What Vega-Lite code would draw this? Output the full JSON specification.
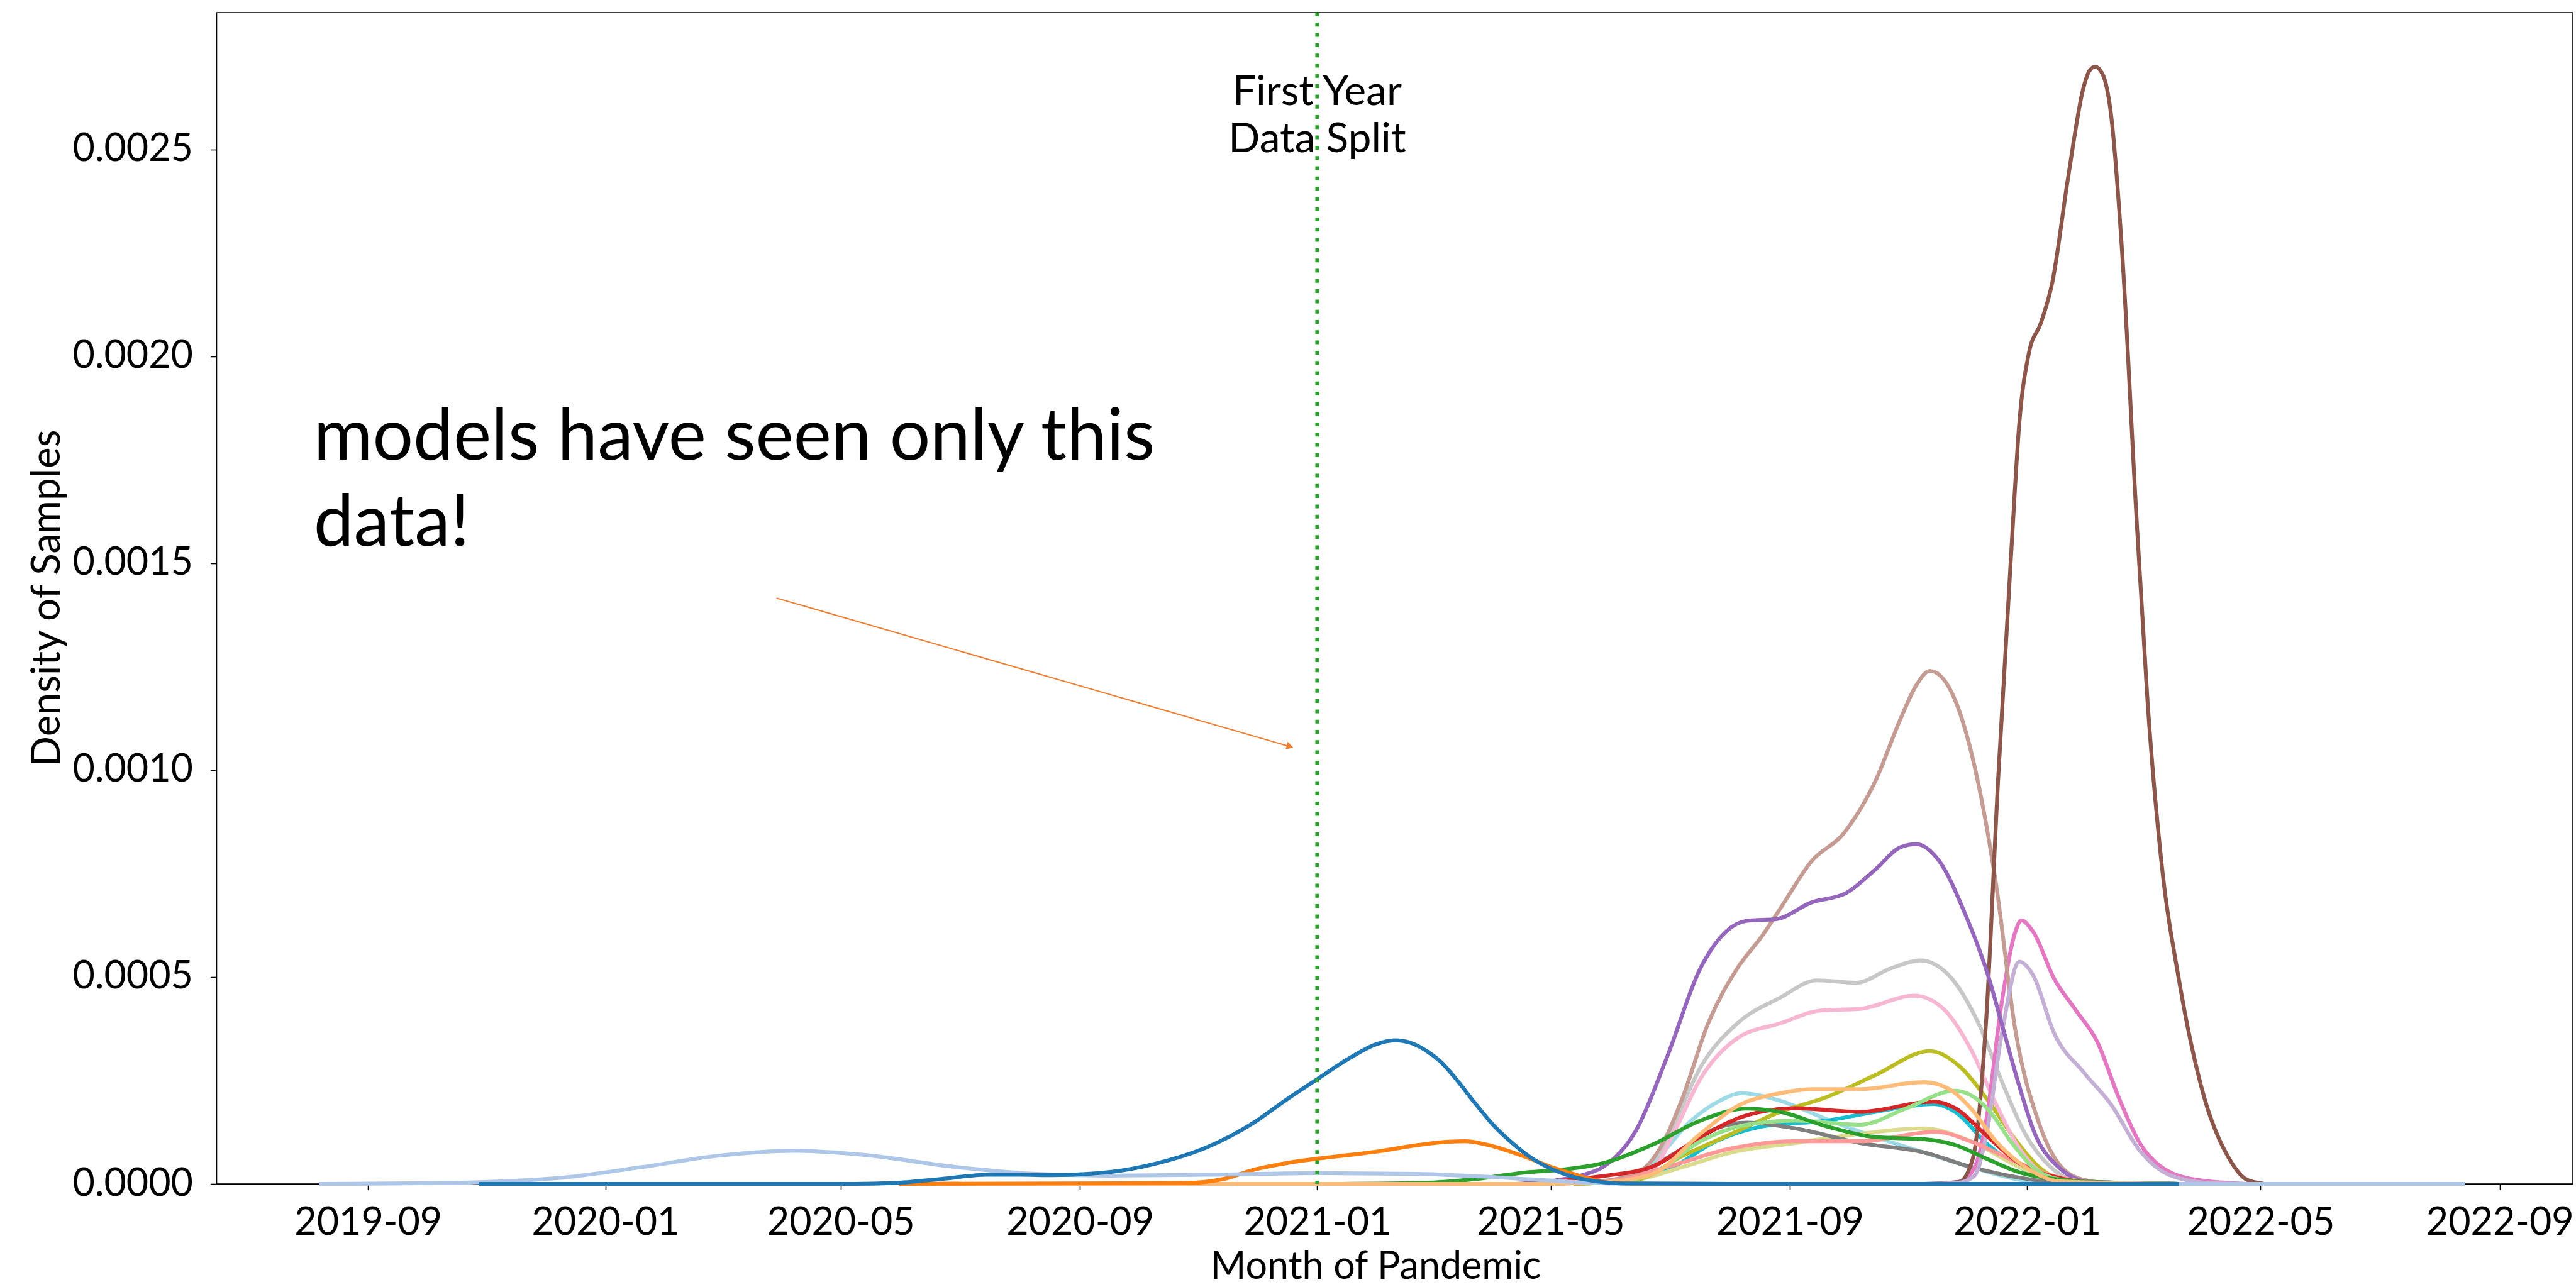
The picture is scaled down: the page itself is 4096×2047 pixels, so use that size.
{
  "$schema": "https://vega.github.io/schema/vega-lite/v6.json",
  "width": 3747,
  "height": 1863,
  "autosize": {"type": "none"},
  "padding": {"left": 344, "top": 20, "right": 5, "bottom": 164},
  "background": "white",
  "config": {"view": {"stroke": "black", "strokeWidth": 1.6}, "font": "Lato"},
  "datasets": {
    "curves": [
      {"series": "s20", "date": "2021-05-03", "density": 0},
      {"series": "s20", "date": "2021-06-02", "density": 0.00001},
      {"series": "s20", "date": "2021-06-22", "density": 0.00005},
      {"series": "s20", "date": "2021-07-13", "density": 0.000156},
      {"series": "s20", "date": "2021-07-27", "density": 0.000201},
      {"series": "s20", "date": "2021-08-07", "density": 0.000219},
      {"series": "s20", "date": "2021-08-27", "density": 0.000201},
      {"series": "s20", "date": "2021-09-20", "density": 0.000156},
      {"series": "s20", "date": "2021-10-15", "density": 0.000113},
      {"series": "s20", "date": "2021-11-09", "density": 0.000076},
      {"series": "s20", "date": "2021-12-03", "density": 0.000041},
      {"series": "s20", "date": "2021-12-28", "density": 0.00001},
      {"series": "s20", "date": "2022-01-18", "density": 0.000002},
      {"series": "s20", "date": "2022-03-20", "density": 0},

      {"series": "s19", "date": "2021-05-13", "density": 0},
      {"series": "s19", "date": "2021-06-07", "density": 0.000008},
      {"series": "s19", "date": "2021-06-30", "density": 0.000033},
      {"series": "s19", "date": "2021-07-25", "density": 0.000103},
      {"series": "s19", "date": "2021-08-18", "density": 0.000139},
      {"series": "s19", "date": "2021-09-20", "density": 0.000153},
      {"series": "s19", "date": "2021-10-15", "density": 0.000174},
      {"series": "s19", "date": "2021-11-14", "density": 0.000193},
      {"series": "s19", "date": "2021-11-25", "density": 0.000174},
      {"series": "s19", "date": "2021-12-12", "density": 0.000094},
      {"series": "s19", "date": "2021-12-28", "density": 0.000041},
      {"series": "s19", "date": "2022-01-18", "density": 0.000008},
      {"series": "s19", "date": "2022-03-20", "density": 0},

      {"series": "s18", "date": "2021-05-13", "density": 0},
      {"series": "s18", "date": "2021-06-12", "density": 0.000008},
      {"series": "s18", "date": "2021-07-08", "density": 0.000041},
      {"series": "s18", "date": "2021-08-02", "density": 0.000076},
      {"series": "s18", "date": "2021-09-04", "density": 0.000099},
      {"series": "s18", "date": "2021-10-07", "density": 0.000121},
      {"series": "s18", "date": "2021-11-09", "density": 0.000134},
      {"series": "s18", "date": "2021-12-03", "density": 0.000103},
      {"series": "s18", "date": "2021-12-28", "density": 0.000041},
      {"series": "s18", "date": "2022-01-18", "density": 0.000006},
      {"series": "s18", "date": "2022-03-20", "density": 0},

      {"series": "s17", "date": "2021-05-13", "density": 0},
      {"series": "s17", "date": "2021-06-14", "density": 0.00001},
      {"series": "s17", "date": "2021-07-08", "density": 0.000068},
      {"series": "s17", "date": "2021-08-02", "density": 0.000121},
      {"series": "s17", "date": "2021-08-27", "density": 0.000174},
      {"series": "s17", "date": "2021-09-20", "density": 0.00021},
      {"series": "s17", "date": "2021-10-15", "density": 0.000263},
      {"series": "s17", "date": "2021-11-12", "density": 0.000321},
      {"series": "s17", "date": "2021-11-28", "density": 0.000281},
      {"series": "s17", "date": "2021-12-12", "density": 0.000201},
      {"series": "s17", "date": "2021-12-25", "density": 0.000113},
      {"series": "s17", "date": "2022-01-07", "density": 0.000041},
      {"series": "s17", "date": "2022-01-23", "density": 0.000006},
      {"series": "s17", "date": "2022-03-20", "density": 0},

      {"series": "s16", "date": "2021-04-23", "density": 0},
      {"series": "s16", "date": "2021-05-28", "density": 0.000006},
      {"series": "s16", "date": "2021-06-22", "density": 0.00004},
      {"series": "s16", "date": "2021-07-04", "density": 0.00015},
      {"series": "s16", "date": "2021-07-17", "density": 0.000281},
      {"series": "s16", "date": "2021-08-05", "density": 0.000388},
      {"series": "s16", "date": "2021-08-27", "density": 0.00045},
      {"series": "s16", "date": "2021-09-15", "density": 0.000492},
      {"series": "s16", "date": "2021-10-05", "density": 0.000486},
      {"series": "s16", "date": "2021-10-23", "density": 0.000521},
      {"series": "s16", "date": "2021-11-07", "density": 0.00054},
      {"series": "s16", "date": "2021-11-22", "density": 0.000503},
      {"series": "s16", "date": "2021-12-07", "density": 0.000388},
      {"series": "s16", "date": "2021-12-20", "density": 0.000236},
      {"series": "s16", "date": "2021-12-31", "density": 0.000121},
      {"series": "s16", "date": "2022-01-13", "density": 0.000041},
      {"series": "s16", "date": "2022-01-28", "density": 0.000006},
      {"series": "s16", "date": "2022-03-20", "density": 0},

      {"series": "s15", "date": "2021-04-23", "density": 0},
      {"series": "s15", "date": "2021-05-23", "density": 0.000004},
      {"series": "s15", "date": "2021-06-14", "density": 0.000023},
      {"series": "s15", "date": "2021-07-08", "density": 0.000086},
      {"series": "s15", "date": "2021-07-25", "density": 0.000134},
      {"series": "s15", "date": "2021-08-10", "density": 0.000148},
      {"series": "s15", "date": "2021-09-04", "density": 0.000134},
      {"series": "s15", "date": "2021-10-07", "density": 0.000099},
      {"series": "s15", "date": "2021-11-09", "density": 0.000076},
      {"series": "s15", "date": "2021-12-03", "density": 0.000041},
      {"series": "s15", "date": "2021-12-28", "density": 0.000015},
      {"series": "s15", "date": "2022-01-18", "density": 0.000003},
      {"series": "s15", "date": "2022-03-20", "density": 0},

      {"series": "s14", "date": "2021-04-23", "density": 0},
      {"series": "s14", "date": "2021-05-28", "density": 0.000005},
      {"series": "s14", "date": "2021-06-22", "density": 0.000033},
      {"series": "s14", "date": "2021-07-04", "density": 0.00013},
      {"series": "s14", "date": "2021-07-17", "density": 0.000254},
      {"series": "s14", "date": "2021-08-05", "density": 0.000352},
      {"series": "s14", "date": "2021-08-27", "density": 0.000388},
      {"series": "s14", "date": "2021-09-17", "density": 0.000419},
      {"series": "s14", "date": "2021-10-07", "density": 0.000423},
      {"series": "s14", "date": "2021-11-04", "density": 0.000455},
      {"series": "s14", "date": "2021-11-19", "density": 0.000423},
      {"series": "s14", "date": "2021-12-03", "density": 0.000326},
      {"series": "s14", "date": "2021-12-16", "density": 0.000193},
      {"series": "s14", "date": "2021-12-28", "density": 0.000086},
      {"series": "s14", "date": "2022-01-10", "density": 0.000023},
      {"series": "s14", "date": "2022-01-28", "density": 0.000002},
      {"series": "s14", "date": "2022-03-20", "density": 0},

      {"series": "s13", "date": "2021-11-14", "density": 0},
      {"series": "s13", "date": "2021-11-27", "density": 0.000005},
      {"series": "s13", "date": "2021-12-05", "density": 0.00004},
      {"series": "s13", "date": "2021-12-11", "density": 0.000155},
      {"series": "s13", "date": "2021-12-19", "density": 0.00044},
      {"series": "s13", "date": "2021-12-26", "density": 0.00061},
      {"series": "s13", "date": "2021-12-29", "density": 0.000637},
      {"series": "s13", "date": "2022-01-04", "density": 0.00061},
      {"series": "s13", "date": "2022-01-15", "density": 0.000495},
      {"series": "s13", "date": "2022-01-26", "density": 0.00042},
      {"series": "s13", "date": "2022-02-06", "density": 0.000344},
      {"series": "s13", "date": "2022-02-17", "density": 0.00021},
      {"series": "s13", "date": "2022-02-28", "density": 0.000098},
      {"series": "s13", "date": "2022-03-11", "density": 0.000041},
      {"series": "s13", "date": "2022-03-29", "density": 0.00001},
      {"series": "s13", "date": "2022-04-23", "density": 0},

      {"series": "s12", "date": "2021-04-23", "density": 0},
      {"series": "s12", "date": "2021-05-23", "density": 0.000005},
      {"series": "s12", "date": "2021-06-07", "density": 0.000015},
      {"series": "s12", "date": "2021-06-19", "density": 0.000041},
      {"series": "s12", "date": "2021-06-29", "density": 0.00011},
      {"series": "s12", "date": "2021-07-08", "density": 0.00021},
      {"series": "s12", "date": "2021-07-21", "density": 0.000388},
      {"series": "s12", "date": "2021-08-05", "density": 0.000521},
      {"series": "s12", "date": "2021-08-18", "density": 0.000601},
      {"series": "s12", "date": "2021-08-28", "density": 0.000672},
      {"series": "s12", "date": "2021-09-12", "density": 0.000779},
      {"series": "s12", "date": "2021-09-29", "density": 0.000849},
      {"series": "s12", "date": "2021-10-15", "density": 0.000974},
      {"series": "s12", "date": "2021-10-28", "density": 0.001125},
      {"series": "s12", "date": "2021-11-05", "density": 0.001205},
      {"series": "s12", "date": "2021-11-12", "density": 0.00124},
      {"series": "s12", "date": "2021-11-19", "density": 0.00122},
      {"series": "s12", "date": "2021-11-25", "density": 0.001169},
      {"series": "s12", "date": "2021-12-05", "density": 0.001009},
      {"series": "s12", "date": "2021-12-16", "density": 0.000725},
      {"series": "s12", "date": "2021-12-26", "density": 0.00037},
      {"series": "s12", "date": "2022-01-07", "density": 0.000148},
      {"series": "s12", "date": "2022-01-17", "density": 0.00005},
      {"series": "s12", "date": "2022-01-30", "density": 0.00001},
      {"series": "s12", "date": "2022-02-17", "density": 0},

      {"series": "s11", "date": "2021-11-09", "density": 0},
      {"series": "s11", "date": "2021-11-27", "density": 0.000005},
      {"series": "s11", "date": "2021-12-04", "density": 0.00006},
      {"series": "s11", "date": "2021-12-11", "density": 0.0004},
      {"series": "s11", "date": "2021-12-17", "density": 0.00097},
      {"series": "s11", "date": "2021-12-24", "density": 0.00154},
      {"series": "s11", "date": "2021-12-28", "density": 0.00184},
      {"series": "s11", "date": "2022-01-02", "density": 0.00201},
      {"series": "s11", "date": "2022-01-08", "density": 0.00208},
      {"series": "s11", "date": "2022-01-14", "density": 0.00218},
      {"series": "s11", "date": "2022-01-22", "density": 0.00243},
      {"series": "s11", "date": "2022-01-30", "density": 0.00265},
      {"series": "s11", "date": "2022-02-02", "density": 0.00269},
      {"series": "s11", "date": "2022-02-05", "density": 0.0027},
      {"series": "s11", "date": "2022-02-09", "density": 0.00268},
      {"series": "s11", "date": "2022-02-13", "density": 0.00259},
      {"series": "s11", "date": "2022-02-19", "density": 0.00224},
      {"series": "s11", "date": "2022-02-26", "density": 0.00163},
      {"series": "s11", "date": "2022-03-04", "density": 0.00116},
      {"series": "s11", "date": "2022-03-11", "density": 0.00078},
      {"series": "s11", "date": "2022-03-20", "density": 0.000495},
      {"series": "s11", "date": "2022-04-02", "density": 0.00021},
      {"series": "s11", "date": "2022-04-15", "density": 0.00006},
      {"series": "s11", "date": "2022-04-24", "density": 0.00001},
      {"series": "s11", "date": "2022-05-03", "density": 0},

      {"series": "s10", "date": "2021-11-09", "density": 0},
      {"series": "s10", "date": "2021-11-27", "density": 0.000003},
      {"series": "s10", "date": "2021-12-05", "density": 0.00002},
      {"series": "s10", "date": "2021-12-11", "density": 0.000117},
      {"series": "s10", "date": "2021-12-19", "density": 0.000363},
      {"series": "s10", "date": "2021-12-28", "density": 0.000537},
      {"series": "s10", "date": "2022-01-04", "density": 0.000505},
      {"series": "s10", "date": "2022-01-15", "density": 0.000363},
      {"series": "s10", "date": "2022-01-30", "density": 0.00027},
      {"series": "s10", "date": "2022-02-13", "density": 0.000193},
      {"series": "s10", "date": "2022-02-28", "density": 0.00008},
      {"series": "s10", "date": "2022-03-15", "density": 0.000022},
      {"series": "s10", "date": "2022-04-05", "density": 0.000002},
      {"series": "s10", "date": "2022-04-23", "density": 0},

      {"series": "s09", "date": "2021-04-13", "density": 0},
      {"series": "s09", "date": "2021-05-03", "density": 0.000008},
      {"series": "s09", "date": "2021-05-18", "density": 0.000022},
      {"series": "s09", "date": "2021-05-28", "density": 0.000041},
      {"series": "s09", "date": "2021-06-14", "density": 0.00013},
      {"series": "s09", "date": "2021-06-30", "density": 0.000308},
      {"series": "s09", "date": "2021-07-17", "density": 0.000521},
      {"series": "s09", "date": "2021-07-30", "density": 0.000609},
      {"series": "s09", "date": "2021-08-10", "density": 0.000636},
      {"series": "s09", "date": "2021-08-25", "density": 0.00064},
      {"series": "s09", "date": "2021-09-12", "density": 0.00068},
      {"series": "s09", "date": "2021-09-30", "density": 0.000703},
      {"series": "s09", "date": "2021-10-15", "density": 0.00076},
      {"series": "s09", "date": "2021-10-28", "density": 0.000814},
      {"series": "s09", "date": "2021-11-05", "density": 0.000821},
      {"series": "s09", "date": "2021-11-17", "density": 0.000779},
      {"series": "s09", "date": "2021-11-30", "density": 0.000654},
      {"series": "s09", "date": "2021-12-12", "density": 0.000503},
      {"series": "s09", "date": "2021-12-20", "density": 0.000369},
      {"series": "s09", "date": "2021-12-28", "density": 0.000236},
      {"series": "s09", "date": "2022-01-05", "density": 0.000121},
      {"series": "s09", "date": "2022-01-17", "density": 0.000041},
      {"series": "s09", "date": "2022-02-02", "density": 0.000005},
      {"series": "s09", "date": "2022-03-20", "density": 0},

      {"series": "s08", "date": "2021-04-23", "density": 0},
      {"series": "s08", "date": "2021-06-02", "density": 0.000008},
      {"series": "s08", "date": "2021-06-30", "density": 0.000041},
      {"series": "s08", "date": "2021-08-02", "density": 0.000086},
      {"series": "s08", "date": "2021-09-04", "density": 0.000103},
      {"series": "s08", "date": "2021-10-07", "density": 0.000103},
      {"series": "s08", "date": "2021-11-15", "density": 0.000126},
      {"series": "s08", "date": "2021-12-03", "density": 0.000103},
      {"series": "s08", "date": "2021-12-28", "density": 0.00005},
      {"series": "s08", "date": "2022-01-18", "density": 0.000015},
      {"series": "s08", "date": "2022-02-12", "density": 0.000002},
      {"series": "s08", "date": "2022-03-20", "density": 0},

      {"series": "s07", "date": "2021-04-23", "density": 0},
      {"series": "s07", "date": "2021-05-08", "density": 0.000008},
      {"series": "s07", "date": "2021-05-28", "density": 0.000019},
      {"series": "s07", "date": "2021-06-22", "density": 0.000041},
      {"series": "s07", "date": "2021-07-17", "density": 0.000113},
      {"series": "s07", "date": "2021-08-10", "density": 0.000166},
      {"series": "s07", "date": "2021-09-04", "density": 0.000183},
      {"series": "s07", "date": "2021-10-07", "density": 0.000174},
      {"series": "s07", "date": "2021-11-14", "density": 0.000199},
      {"series": "s07", "date": "2021-11-25", "density": 0.000183},
      {"series": "s07", "date": "2021-12-12", "density": 0.000113},
      {"series": "s07", "date": "2021-12-28", "density": 0.00005},
      {"series": "s07", "date": "2022-01-17", "density": 0.000015},
      {"series": "s07", "date": "2022-02-07", "density": 0.000002},
      {"series": "s07", "date": "2022-03-20", "density": 0},

      {"series": "s06", "date": "2021-04-23", "density": 0},
      {"series": "s06", "date": "2021-06-02", "density": 0.000005},
      {"series": "s06", "date": "2021-06-22", "density": 0.000023},
      {"series": "s06", "date": "2021-07-17", "density": 0.000103},
      {"series": "s06", "date": "2021-08-10", "density": 0.000143},
      {"series": "s06", "date": "2021-09-04", "density": 0.000153},
      {"series": "s06", "date": "2021-10-07", "density": 0.000143},
      {"series": "s06", "date": "2021-10-31", "density": 0.000183},
      {"series": "s06", "date": "2021-11-25", "density": 0.000225},
      {"series": "s06", "date": "2021-12-12", "density": 0.00018},
      {"series": "s06", "date": "2021-12-24", "density": 0.0001},
      {"series": "s06", "date": "2022-01-04", "density": 0.00004},
      {"series": "s06", "date": "2022-01-18", "density": 0.00001},
      {"series": "s06", "date": "2022-02-07", "density": 0.000001},
      {"series": "s06", "date": "2022-03-20", "density": 0},

      {"series": "s05", "date": "2021-01-13", "density": 0},
      {"series": "s05", "date": "2021-02-27", "density": 0.000003},
      {"series": "s05", "date": "2021-03-24", "density": 0.000012},
      {"series": "s05", "date": "2021-04-17", "density": 0.000027},
      {"series": "s05", "date": "2021-05-08", "density": 0.000035},
      {"series": "s05", "date": "2021-05-28", "density": 0.00005},
      {"series": "s05", "date": "2021-06-22", "density": 0.000094},
      {"series": "s05", "date": "2021-07-17", "density": 0.000153},
      {"series": "s05", "date": "2021-08-10", "density": 0.000182},
      {"series": "s05", "date": "2021-08-27", "density": 0.000174},
      {"series": "s05", "date": "2021-09-20", "density": 0.000139},
      {"series": "s05", "date": "2021-10-15", "density": 0.000113},
      {"series": "s05", "date": "2021-11-09", "density": 0.000108},
      {"series": "s05", "date": "2021-11-25", "density": 0.000094},
      {"series": "s05", "date": "2021-12-12", "density": 0.000059},
      {"series": "s05", "date": "2021-12-28", "density": 0.000028},
      {"series": "s05", "date": "2022-01-18", "density": 0.00001},
      {"series": "s05", "date": "2022-02-17", "density": 0.000002},
      {"series": "s05", "date": "2022-03-20", "density": 0},

      {"series": "s04", "date": "2020-05-31", "density": 0},
      {"series": "s04", "date": "2021-04-23", "density": 0},
      {"series": "s04", "date": "2021-05-28", "density": 0.000004},
      {"series": "s04", "date": "2021-06-22", "density": 0.000023},
      {"series": "s04", "date": "2021-07-17", "density": 0.000121},
      {"series": "s04", "date": "2021-08-05", "density": 0.000188},
      {"series": "s04", "date": "2021-08-27", "density": 0.000219},
      {"series": "s04", "date": "2021-09-12", "density": 0.000229},
      {"series": "s04", "date": "2021-10-07", "density": 0.000229},
      {"series": "s04", "date": "2021-11-09", "density": 0.000246},
      {"series": "s04", "date": "2021-11-22", "density": 0.000229},
      {"series": "s04", "date": "2021-12-03", "density": 0.000183},
      {"series": "s04", "date": "2021-12-16", "density": 0.000103},
      {"series": "s04", "date": "2021-12-31", "density": 0.000041},
      {"series": "s04", "date": "2022-01-18", "density": 0.000006},
      {"series": "s04", "date": "2022-03-20", "density": 0},

      {"series": "s03", "date": "2020-05-31", "density": 0},
      {"series": "s03", "date": "2020-10-25", "density": 0.000002},
      {"series": "s03", "date": "2020-11-14", "density": 0.000012},
      {"series": "s03", "date": "2020-11-30", "density": 0.000035},
      {"series": "s03", "date": "2020-12-16", "density": 0.00005},
      {"series": "s03", "date": "2021-01-01", "density": 0.000061},
      {"series": "s03", "date": "2021-01-18", "density": 0.00007},
      {"series": "s03", "date": "2021-02-02", "density": 0.000079},
      {"series": "s03", "date": "2021-02-22", "density": 0.000094},
      {"series": "s03", "date": "2021-03-10", "density": 0.000102},
      {"series": "s03", "date": "2021-03-18", "density": 0.000103},
      {"series": "s03", "date": "2021-03-29", "density": 0.000095},
      {"series": "s03", "date": "2021-04-17", "density": 0.000067},
      {"series": "s03", "date": "2021-05-03", "density": 0.000038},
      {"series": "s03", "date": "2021-05-12", "density": 0.000025},
      {"series": "s03", "date": "2021-05-23", "density": 0.00001},
      {"series": "s03", "date": "2021-06-02", "density": 0.000002},
      {"series": "s03", "date": "2021-06-22", "density": 0},
      {"series": "s03", "date": "2021-09-30", "density": 0},

      {"series": "s02", "date": "2019-08-07", "density": 0},
      {"series": "s02", "date": "2019-10-11", "density": 0.000002},
      {"series": "s02", "date": "2019-10-28", "density": 0.000004},
      {"series": "s02", "date": "2019-12-10", "density": 0.000015},
      {"series": "s02", "date": "2020-01-19", "density": 0.00004},
      {"series": "s02", "date": "2020-02-28", "density": 0.000068},
      {"series": "s02", "date": "2020-04-07", "density": 0.00008},
      {"series": "s02", "date": "2020-05-13", "density": 0.00007},
      {"series": "s02", "date": "2020-06-27", "density": 0.000042},
      {"series": "s02", "date": "2020-08-06", "density": 0.000025},
      {"series": "s02", "date": "2020-09-15", "density": 0.00002},
      {"series": "s02", "date": "2020-11-04", "density": 0.000022},
      {"series": "s02", "date": "2021-01-03", "density": 0.000026},
      {"series": "s02", "date": "2021-02-22", "density": 0.000024},
      {"series": "s02", "date": "2021-04-03", "density": 0.000016},
      {"series": "s02", "date": "2021-05-08", "density": 0.000006},
      {"series": "s02", "date": "2021-06-02", "density": 0.000001},
      {"series": "s02", "date": "2021-08-01", "density": 0},
      {"series": "s02", "date": "2022-08-14", "density": 0},

      {"series": "s01", "date": "2019-10-28", "density": 0},
      {"series": "s01", "date": "2020-05-08", "density": 0},
      {"series": "s01", "date": "2020-05-28", "density": 0.000002},
      {"series": "s01", "date": "2020-06-22", "density": 0.000012},
      {"series": "s01", "date": "2020-07-15", "density": 0.000022},
      {"series": "s01", "date": "2020-08-01", "density": 0.000022},
      {"series": "s01", "date": "2020-08-18", "density": 0.000021},
      {"series": "s01", "date": "2020-09-05", "density": 0.000024},
      {"series": "s01", "date": "2020-09-22", "density": 0.000032},
      {"series": "s01", "date": "2020-10-15", "density": 0.000055},
      {"series": "s01", "date": "2020-11-05", "density": 0.000088},
      {"series": "s01", "date": "2020-11-30", "density": 0.00015},
      {"series": "s01", "date": "2020-12-16", "density": 0.000203},
      {"series": "s01", "date": "2021-01-01", "density": 0.000253},
      {"series": "s01", "date": "2021-01-18", "density": 0.000305},
      {"series": "s01", "date": "2021-01-31", "density": 0.000337},
      {"series": "s01", "date": "2021-02-10", "density": 0.000347},
      {"series": "s01", "date": "2021-02-18", "density": 0.000341},
      {"series": "s01", "date": "2021-02-26", "density": 0.000322},
      {"series": "s01", "date": "2021-03-06", "density": 0.000293},
      {"series": "s01", "date": "2021-03-14", "density": 0.00025},
      {"series": "s01", "date": "2021-03-23", "density": 0.000196},
      {"series": "s01", "date": "2021-04-02", "density": 0.00014},
      {"series": "s01", "date": "2021-04-12", "density": 0.000096},
      {"series": "s01", "date": "2021-04-22", "density": 0.00006},
      {"series": "s01", "date": "2021-05-02", "density": 0.000035},
      {"series": "s01", "date": "2021-05-12", "density": 0.000018},
      {"series": "s01", "date": "2021-05-22", "density": 0.000008},
      {"series": "s01", "date": "2021-06-07", "density": 0.000001},
      {"series": "s01", "date": "2021-08-01", "density": 0},
      {"series": "s01", "date": "2022-03-20", "density": 0}
    ],
    "split": [{"date": "2021-01-01", "density": 0.002607, "label": "First Year\nData Split"}],
    "note": [{"date": "2019-08-04", "density": 0.00175, "label": "models have seen only this\ndata!"}],
    "arrow": [
      {"date": "2020-03-29", "density": 0.001416},
      {"date": "2020-12-18", "density": 0.001057}
    ],
    "arrowhead": [{"date": "2020-12-18", "density": 0.001057}]
  },
  "layer": [
    {
      "data": {"name": "curves"},
      "mark": {"type": "line", "strokeWidth": 6.2, "interpolate": "monotone"},
      "encoding": {
        "x": {
          "field": "date", "type": "temporal",
          "scale": {"type": "utc", "domain": [{"year": 2019, "month": 6, "date": 15, "utc": true}, {"year": 2022, "month": 10, "date": 8, "hours": 14, "utc": true}]},
          "axis": {
            "title": "Month of Pandemic", "format": "%Y-%m", "tickCount": {"interval": "month", "step": 4},
            "grid": false, "domainColor": "black", "domainWidth": 1.6, "tickColor": "black", "tickWidth": 1.6, "tickSize": 9.6,
            "labelFont": "Lato", "labelFontSize": 61, "labelColor": "black", "labelBaseline": "alphabetic", "labelPadding": 71,
            "labelFlush": false, "labelOverlap": false, "labelLimit": 0,
            "titleFont": "Lato", "titleFontSize": 61, "titleFontWeight": "normal", "titleColor": "black",
            "titleX": 1843, "titleY": 150, "titleBaseline": "alphabetic", "titleAlign": "center", "titleAnchor": null, "titleLimit": 0
          }
        },
        "y": {
          "field": "density", "type": "quantitative",
          "scale": {"domain": [0, 0.002831], "nice": false},
          "axis": {
            "title": "Density of Samples", "values": [0, 0.0005, 0.001, 0.0015, 0.002, 0.0025], "format": ".4f",
            "grid": false, "domainColor": "black", "domainWidth": 1.6, "tickColor": "black", "tickWidth": 1.6, "tickSize": 9.6,
            "labelFont": "Lato", "labelFontSize": 61, "labelColor": "black", "labelPadding": 28, "labelLimit": 0,
            "titleFont": "Lato", "titleFontSize": 64, "titleFontWeight": "normal", "titleColor": "black",
            "titleAngle": -90, "titleX": -250, "titleY": 931, "titleBaseline": "alphabetic", "titleAlign": "center", "titleAnchor": null, "titleLimit": 0
          }
        },
        "color": {
          "field": "series", "type": "nominal", "legend": null,
          "scale": {
            "domain": ["s01","s02","s03","s04","s05","s06","s07","s08","s09","s10","s11","s12","s13","s14","s15","s16","s17","s18","s19","s20"],
            "range": ["#1f77b4","#aec7e8","#ff7f0e","#ffbb78","#2ca02c","#98df8a","#d62728","#ff9896","#9467bd","#c5b0d5","#8c564b","#c49c94","#e377c2","#f7b6d2","#7f7f7f","#c7c7c7","#bcbd22","#dbdb8d","#17becf","#9edae5"]
          }
        }
      }
    },
    {
      "data": {"name": "split"},
      "mark": {"type": "rule", "color": "#2ca02c", "strokeWidth": 6, "strokeDash": [6, 10.3]},
      "encoding": {"x": {"field": "date", "type": "temporal"}}
    },
    {
      "data": {"name": "split"},
      "mark": {"type": "text", "font": "Lato", "fontSize": 66, "align": "center", "baseline": "alphabetic", "lineBreak": "\n", "lineHeight": 75, "color": "black"},
      "encoding": {
        "x": {"field": "date", "type": "temporal"},
        "y": {"field": "density", "type": "quantitative"},
        "text": {"field": "label"}
      }
    },
    {
      "data": {"name": "note"},
      "mark": {"type": "text", "font": "Lato", "fontSize": 114, "align": "left", "baseline": "alphabetic", "lineBreak": "\n", "lineHeight": 137, "color": "black"},
      "encoding": {
        "x": {"field": "date", "type": "temporal"},
        "y": {"field": "density", "type": "quantitative"},
        "text": {"field": "label"}
      }
    },
    {
      "data": {"name": "arrow"},
      "mark": {"type": "line", "color": "#ed7d31", "strokeWidth": 2},
      "encoding": {
        "x": {"field": "date", "type": "temporal"},
        "y": {"field": "density", "type": "quantitative"}
      }
    },
    {
      "data": {"name": "arrowhead"},
      "mark": {"type": "point", "shape": "triangle-right", "filled": true, "opacity": 1, "color": "#ed7d31", "size": 160, "angle": 16},
      "encoding": {
        "x": {"field": "date", "type": "temporal"},
        "y": {"field": "density", "type": "quantitative"}
      }
    }
  ]
}
